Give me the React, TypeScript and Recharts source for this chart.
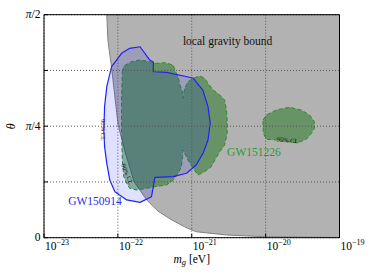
import React from 'react'
import {
  ScatterChart,
  Scatter,
  XAxis,
  YAxis,
  CartesianGrid,
  ReferenceArea,
} from 'recharts'

// x: log10(m_g / eV), y: theta in radians
const HALF_PI = Math.PI / 2
const xTicks = [-23, -22, -21, -20, -19]
const yTicks = [0, Math.PI / 8, Math.PI / 4, (3 * Math.PI) / 8, HALF_PI]
const yTickLabels = ['0', '', 'π/4', '', 'π/2']

// excluded region (above the curve)
const gravityBound = [
  { x: -22.15, y: HALF_PI },
  { x: -22.135, y: 1.393 },
  { x: -22.085, y: 1.195 },
  { x: -21.996, y: 0.792 },
  { x: -21.89, y: 0.583 },
  { x: -21.78, y: 0.394 },
  { x: -21.61, y: 0.266 },
  { x: -21.46, y: 0.188 },
  { x: -21.27, y: 0.125 },
  { x: -21.09, y: 0.075 },
  { x: -20.94, y: 0.042 },
  { x: -20.53, y: 0.019 },
  { x: -20.01, y: 0.007 },
  { x: -19, y: 0.001 },
  { x: -19, y: HALF_PI },
]

const gw150914 = [
  { x: -21.7, y: 1.345 },
  { x: -21.57, y: 1.252 },
  { x: -21.52, y: 1.238 },
  { x: -21.52, y: 1.169 },
  { x: -21.34, y: 1.164 },
  { x: -20.985, y: 1.125 },
  { x: -20.85, y: 1.04 },
  { x: -20.78, y: 0.923 },
  { x: -20.75, y: 0.808 },
  { x: -20.78, y: 0.688 },
  { x: -20.845, y: 0.597 },
  { x: -20.94, y: 0.512 },
  { x: -21.07, y: 0.454 },
  { x: -21.25, y: 0.43 },
  { x: -21.5, y: 0.425 },
  { x: -21.52, y: 0.359 },
  { x: -21.545, y: 0.289 },
  { x: -21.7, y: 0.249 },
  { x: -21.88, y: 0.266 },
  { x: -22.04, y: 0.324 },
  { x: -22.11, y: 0.406 },
  { x: -22.15, y: 0.524 },
  { x: -22.18, y: 0.641 },
  { x: -22.19, y: 0.759 },
  { x: -22.18, y: 0.923 },
  { x: -22.15, y: 1.064 },
  { x: -22.085, y: 1.205 },
  { x: -21.95, y: 1.299 },
  { x: -21.84, y: 1.334 },
]

const gw151226Main = [
  { x: -21.94, y: 1.169 },
  { x: -21.92, y: 1.209 },
  { x: -21.815, y: 1.24 },
  { x: -21.7, y: 1.252 },
  { x: -21.57, y: 1.24 },
  { x: -21.48, y: 1.228 },
  { x: -21.365, y: 1.233 },
  { x: -21.25, y: 1.216 },
  { x: -21.23, y: 1.181 },
  { x: -21.185, y: 1.134 },
  { x: -21.16, y: 1.076 },
  { x: -21.125, y: 1.028 },
  { x: -21.12, y: 0.982 },
  { x: -21.095, y: 1.052 },
  { x: -21.05, y: 1.099 },
  { x: -20.98, y: 1.123 },
  { x: -20.89, y: 1.139 },
  { x: -20.825, y: 1.123 },
  { x: -20.78, y: 1.088 },
  { x: -20.71, y: 1.04 },
  { x: -20.62, y: 1.005 },
  { x: -20.555, y: 0.97 },
  { x: -20.53, y: 0.9 },
  { x: -20.52, y: 0.817 },
  { x: -20.52, y: 0.735 },
  { x: -20.555, y: 0.653 },
  { x: -20.62, y: 0.606 },
  { x: -20.675, y: 0.559 },
  { x: -20.735, y: 0.5 },
  { x: -20.825, y: 0.465 },
  { x: -20.915, y: 0.442 },
  { x: -20.98, y: 0.489 },
  { x: -21.05, y: 0.547 },
  { x: -21.095, y: 0.595 },
  { x: -21.12, y: 0.618 },
  { x: -21.125, y: 0.571 },
  { x: -21.14, y: 0.5 },
  { x: -21.185, y: 0.454 },
  { x: -21.25, y: 0.406 },
  { x: -21.34, y: 0.371 },
  { x: -21.5, y: 0.359 },
  { x: -21.61, y: 0.348 },
  { x: -21.75, y: 0.336 },
  { x: -21.84, y: 0.348 },
  { x: -21.88, y: 0.383 },
  { x: -21.92, y: 0.43 },
  { x: -21.94, y: 0.547 },
  { x: -21.95, y: 0.735 },
  { x: -21.95, y: 0.97 },
]

const gw151226Small = [
  { x: -20.035, y: 0.829 },
  { x: -19.99, y: 0.864 },
  { x: -19.855, y: 0.9 },
  { x: -19.675, y: 0.919 },
  { x: -19.52, y: 0.9 },
  { x: -19.405, y: 0.864 },
  { x: -19.34, y: 0.817 },
  { x: -19.34, y: 0.771 },
  { x: -19.38, y: 0.735 },
  { x: -19.45, y: 0.693 },
  { x: -19.565, y: 0.669 },
  { x: -19.72, y: 0.676 },
  { x: -19.855, y: 0.688 },
  { x: -19.99, y: 0.693 },
  { x: -20.03, y: 0.735 },
  { x: -20.035, y: 0.782 },
]

// text anchors, in data coordinates
const boundLabel = [{ x: -20.514, y: 1.357 }]
const gw150914Label = [{ x: -22.31, y: 0.23 }]
const gw151226Label = [{ x: -20.158, y: 0.575 }]
const cl150914 = [{ x: -22.196, y: 0.759 }]
const cl151226 = [{ x: -21.87, y: 0.449 }]
const clSmall = [{ x: -19.703, y: 0.688 }]

const SERIF = '"Liberation Serif", "DejaVu Serif", serif'

const polygon =
  (fill: string, stroke: string, width: number, dash?: string) => (p: any) => {
    const pts = p.points || []
    const d =
      pts.map((pt: any, i: number) => `${i ? 'L' : 'M'}${pt.x},${pt.y}`).join('') + 'Z'
    return (
      <path
        d={d}
        fill={fill}
        stroke={stroke}
        strokeWidth={width}
        strokeDasharray={dash}
        strokeLinejoin="round"
      />
    )
  }

const noDot = () => <g />

const label =
  (text: string, color: string, size: number, anchor: string, angle = 0) =>
  (p: any) => (
    <text
      x={p.cx}
      y={p.cy}
      fill={color}
      fontSize={size}
      fontFamily={SERIF}
      textAnchor={anchor}
      dominantBaseline={angle ? 'central' : 'auto'}
      transform={angle ? `rotate(${angle} ${p.cx} ${p.cy})` : undefined}
    >
      {text}
    </text>
  )

const XTick = (p: any) => {
  const v = p.payload.value
  return (
    <g>
      <line x1={p.x} x2={p.x} y1={p.y} y2={p.y - 4} stroke="#000" />
      <text x={p.x + 1} y={p.y + 12.5} fontSize={11.5} fontFamily={SERIF} fill="#000">
        10
        <tspan dy={-5} fontSize={8}>
          {'−' + Math.abs(v)}
        </tspan>
      </text>
    </g>
  )
}

const YTick = (p: any) => {
  const txt = yTickLabels[p.index]
  return (
    <g>
      <line x1={p.x} x2={p.x + 4} y1={p.y} y2={p.y} stroke="#000" />
      {txt && (
        <text
          x={p.x - 3.5}
          y={p.y + 3.5}
          fontSize={11.5}
          fontFamily={SERIF}
          textAnchor="end"
          fill="#000"
        >
          {txt.startsWith('π') ? (
            <>
              <tspan fontStyle="italic">π</tspan>
              {txt.slice(1)}
            </>
          ) : (
            txt
          )}
        </text>
      )}
    </g>
  )
}

const App = () => {
  return (
    <div style={{ position: 'absolute', left: 0, top: 0 }}>
      <ScatterChart
        width={374}
        height={280}
        margin={{ top: 14.7, right: 34.5, bottom: 0, left: 0 }}
      >
        <XAxis
          type="number"
          dataKey="x"
          domain={[-23, -19]}
          ticks={xTicks}
          allowDataOverflow
          height={42.3}
          tickSize={0}
          tickMargin={0}
          tick={<XTick />}
          axisLine={false}
          interval={0}
          label={{
            content: (lp: any) => {
              const vb = lp.viewBox
              return (
                <text
                  x={vb.x + vb.width / 2}
                  y={vb.y + 25.5}
                  fontSize={11.5}
                  fontFamily={SERIF}
                  textAnchor="middle"
                  fill="#000"
                >
                  <tspan fontStyle="italic">m</tspan>
                  <tspan fontStyle="italic" fontSize={8.5} dy={2}>
                    g
                  </tspan>
                  <tspan dy={-2}> [eV]</tspan>
                </text>
              )
            },
          }}
        />
        <YAxis
          type="number"
          dataKey="y"
          domain={[0, HALF_PI]}
          ticks={yTicks}
          allowDataOverflow
          width={44}
          tickSize={0}
          tickMargin={0}
          tick={<YTick />}
          axisLine={false}
          interval={0}
          label={{
            content: (lp: any) => {
              const vb = lp.viewBox
              const cx = vb.x + 11
              const cy = vb.y + vb.height / 2
              return (
                <text
                  x={cx}
                  y={cy}
                  fontSize={12}
                  fontFamily={SERIF}
                  fontStyle="italic"
                  textAnchor="middle"
                  dominantBaseline="central"
                  transform={`rotate(-90 ${cx} ${cy})`}
                  fill="#000"
                >
                  θ
                </text>
              )
            },
          }}
        />

        <Scatter
          data={gravityBound}
          isAnimationActive={false}
          shape={noDot}
          line={polygon('#b2b2b2', '#808080', 1)}
        />
        <Scatter
          data={gw151226Main}
          isAnimationActive={false}
          shape={noDot}
          line={polygon('rgba(0,105,0,0.42)', '#2e8b2e', 1, '4 2.5')}
        />
        <Scatter
          data={gw151226Small}
          isAnimationActive={false}
          shape={noDot}
          line={polygon('rgba(0,105,0,0.42)', '#2e8b2e', 1, '4 2.5')}
        />
        <Scatter
          data={gw150914}
          isAnimationActive={false}
          shape={noDot}
          line={polygon('rgba(0,0,255,0.12)', '#2020ff', 1.2)}
        />

        <CartesianGrid stroke="#555" strokeDasharray="1 2" zIndex={700} />
        <ReferenceArea
          x1={-23}
          x2={-19}
          y1={0}
          y2={HALF_PI}
          fill="none"
          stroke="#000"
          strokeWidth={1}
          fillOpacity={0}
          ifOverflow="visible"
          zIndex={750}
        />

        <Scatter
          data={boundLabel}
          isAnimationActive={false}
          shape={label('local gravity bound', '#111', 11.5, 'middle')}
        />
        <Scatter
          data={gw150914Label}
          isAnimationActive={false}
          shape={label('GW150914', '#2b2bea', 11.5, 'middle')}
        />
        <Scatter
          data={gw151226Label}
          isAnimationActive={false}
          shape={label('GW151226', '#2e9a2e', 11.5, 'middle')}
        />
        <Scatter
          data={cl150914}
          isAnimationActive={false}
          shape={label('90% CL', '#111', 6.5, 'middle', 90)}
        />
        <Scatter
          data={cl151226}
          isAnimationActive={false}
          shape={label('90% CL', '#111', 6.5, 'middle', 68)}
        />
        <Scatter
          data={clSmall}
          isAnimationActive={false}
          shape={label('95% CL', '#111', 6.5, 'middle', 5)}
        />
      </ScatterChart>
    </div>
  )
}

export default App
